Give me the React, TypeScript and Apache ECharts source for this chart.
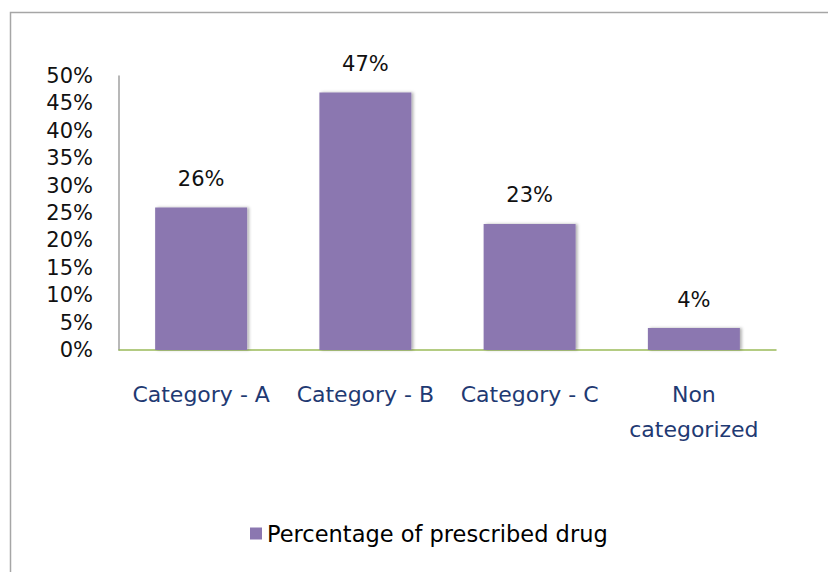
import React, { useEffect, useRef } from "react";
import * as echarts from "echarts";

const categories = ["Category - A", "Category - B", "Category - C", "Non\ncategorized"];
const values = [26, 47, 23, 4];
const seriesName = "Percentage of prescribed drug";
const yTicks = { min: 0, max: 50, interval: 5 };

export default function App() {
  const ref = useRef<HTMLDivElement>(null);
  useEffect(() => {
    if (!ref.current) return;
    const chart = echarts.init(ref.current, undefined, { renderer: "svg" });
    const font = "DejaVu Sans";
    chart.setOption({
      animation: false,
      backgroundColor: "#ffffff",
      graphic: [
        {
          type: "rect",
          shape: { x: 10.5, y: 12.5, width: 830, height: 580 },
          style: { fill: "none", stroke: "#a6a6a6", lineWidth: 1.5 },
          silent: true,
        },
      ],
      grid: { left: 119, top: 76, right: 52, bottom: 222, containLabel: false },
      legend: {
        bottom: 22,
        left: 245,
        itemWidth: 12,
        itemHeight: 12,
        itemGap: 8,
        icon: "rect",
        textStyle: { fontFamily: font, fontSize: 22.5, color: "#000" },
        data: [seriesName],
      },
      xAxis: {
        type: "category",
        data: categories,
        axisLine: { show: true, lineStyle: { color: "#9bbb59", width: 1.5 } },
        axisTick: { show: false },
        axisLabel: {
          fontFamily: font,
          fontSize: 22,
          color: "#1f3a73",
          margin: 27,
          lineHeight: 35,
          interval: 0,
        },
      },
      yAxis: {
        type: "value",
        min: yTicks.min,
        max: yTicks.max,
        interval: yTicks.interval,
        splitLine: { show: false },
        axisLine: { show: true, lineStyle: { color: "#a0a0a0", width: 1.5 } },
        axisTick: { show: false },
        axisLabel: {
          fontFamily: font,
          fontSize: 21,
          color: "#111",
          margin: 26,
          formatter: (v: number) => v + "%",
        },
      },
      series: [
        {
          name: seriesName,
          type: "bar",
          data: values,
          barWidth: "56%",
          itemStyle: {
            color: "#8b77b0",
            shadowColor: "rgba(0,0,0,0.3)",
            shadowBlur: 3,
            shadowOffsetX: 2,
            shadowOffsetY: 0,
          },
          label: {
            show: true,
            position: "top",
            distance: 18,
            fontFamily: font,
            fontSize: 21,
            color: "#111",
            formatter: (p: any) => p.value + "%",
          },
        },
      ],
    });
    return () => chart.dispose();
  }, []);
  return (
    <div
      ref={ref}
      style={{ position: "fixed", left: 0, top: 0, width: 828, height: 572 }}
    />
  );
}
